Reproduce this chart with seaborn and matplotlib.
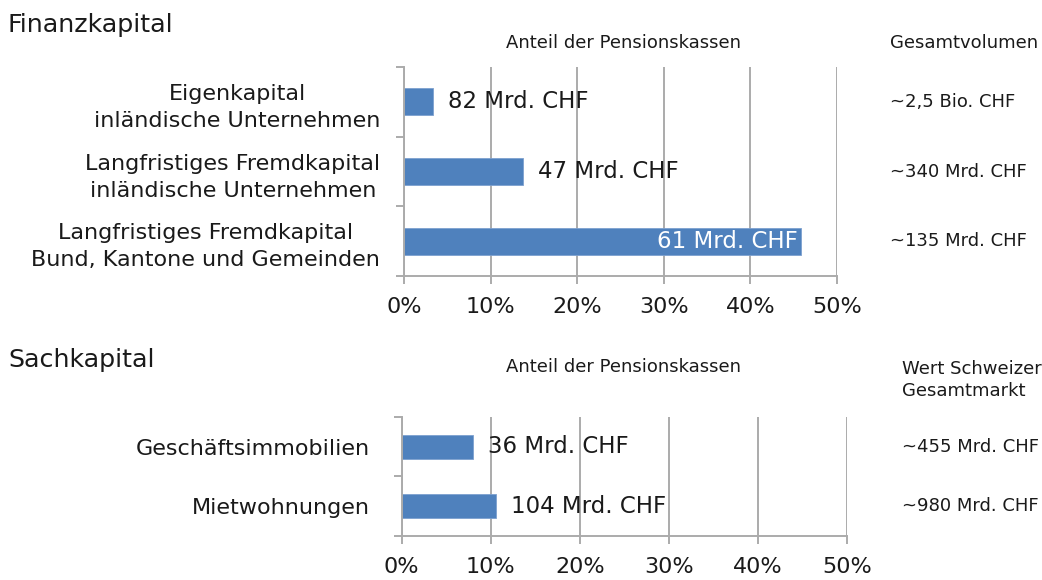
import matplotlib
matplotlib.use("Agg")
import matplotlib.pyplot as plt
import seaborn as sns
import pandas as pd
from matplotlib.ticker import FuncFormatter

# ---- data ----
fin_categories = ["Eigenkapital\ninländische Unternehmen",
                  "Langfristiges Fremdkapital\ninländische Unternehmen",
                  "Langfristiges Fremdkapital\nBund, Kantone und Gemeinden"]
fin_share = [3.3, 13.7, 45.8]
fin_labels = ["82 Mrd. CHF", "47 Mrd. CHF", "61 Mrd. CHF"]
fin_total = ["~2,5 Bio. CHF", "~340 Mrd. CHF", "~135 Mrd. CHF"]

sach_categories = ["Geschäftsimmobilien", "Mietwohnungen"]
sach_share = [8.0, 10.6]
sach_labels = ["36 Mrd. CHF", "104 Mrd. CHF"]
sach_total = ["~455 Mrd. CHF", "~980 Mrd. CHF"]

xticks = [0, 10, 20, 30, 40, 50]

sns.set_theme(style="white")
plt.rcParams['font.family'] = ['DejaVu Sans']

BLUE = "#4F81BD"
GRID = "#ABABAB"
TXT = "#1a1a1a"
FS_BIG = 16.5
FS_TICK = 16
FS_CAT = 16
FS_TITLE = 18.3
FS_SMALL = 13

fig = plt.figure(figsize=(10.42, 5.8), dpi=100)
ax1 = fig.add_axes([0.3877, 0.5241, 0.8033 - 0.3877, 0.8845 - 0.5241])
ax2 = fig.add_axes([0.3855, 0.0759, 0.8126 - 0.3855, 0.281 - 0.0759])


def draw(ax, cats, vals, labels, width, cat_pad, inside_idx=None):
    df = pd.DataFrame({"cat": cats, "val": vals})
    sns.barplot(data=df, y="cat", x="val", orient="h", color=BLUE,
                width=width, ax=ax, saturation=1, edgecolor="#7da0cf", linewidth=0.6)
    n = len(cats)
    ax.set_xlim(0, 50)
    ax.set_ylim(n - 0.5, -0.5)
    ax.set_xticks(xticks)
    ax.xaxis.set_major_formatter(FuncFormatter(lambda v, p: f"{v:.0f}%"))
    ax.set_xlabel("")
    ax.set_ylabel("")
    ax.grid(axis="x", color=GRID, linewidth=1.4)
    ax.grid(axis="y", visible=False)
    ax.set_axisbelow(True)
    for s in ["top", "right"]:
        ax.spines[s].set_visible(False)
    for s in ["left", "bottom"]:
        ax.spines[s].set_color(GRID)
        ax.spines[s].set_linewidth(1.4)
    ax.set_yticks([i - 0.5 for i in range(n + 1)])
    ax.set_yticklabels([])
    ax.set_yticks(list(range(n)), cats, minor=True)
    ax.tick_params(axis="y", which="major", length=6, width=1.4, color=GRID, direction="out", left=True)
    ax.tick_params(axis="y", which="minor", length=0, pad=cat_pad, labelsize=FS_CAT, labelcolor=TXT)
    for t in ax.get_yticklabels(minor=True):
        t.set_multialignment("center")
        t.set_linespacing(1.45)
    ax.tick_params(axis="x", length=6, width=1.4, color=GRID, direction="out", bottom=True,
                   labelsize=FS_TICK, labelcolor=TXT, pad=9)
    for i, (v, lab) in enumerate(zip(vals, labels)):
        if i == inside_idx:
            ax.annotate(lab, (v, i), xytext=(-2, 0), textcoords="offset points",
                        ha="right", va="center", color="white", fontsize=FS_BIG)
        else:
            ax.annotate(lab, (v, i), xytext=(11, 0), textcoords="offset points",
                        ha="left", va="center", color=TXT, fontsize=FS_BIG)


draw(ax1, fin_categories, fin_share, fin_labels, 0.39, cat_pad=17, inside_idx=2)
draw(ax2, sach_categories, sach_share, sach_labels, 0.4, cat_pad=23)

fig.text(8 / 1042, 1 - 25 / 580, "Finanzkapital", fontsize=FS_TITLE, color=TXT, ha="left", va="center")
fig.text(624 / 1042, 1 - 43 / 580, "Anteil der Pensionskassen", fontsize=FS_SMALL, color=TXT, ha="center", va="center")
fig.text(890 / 1042, 1 - 43 / 580, "Gesamtvolumen", fontsize=FS_SMALL, color=TXT, ha="left", va="center")
for i, t in enumerate(fin_total):
    ax1.annotate(t, xy=(890 / 1042, i), xycoords=("figure fraction", "data"),
                 ha="left", va="center", fontsize=FS_SMALL, color=TXT)

fig.text(8 / 1042, 1 - 360 / 580, "Sachkapital", fontsize=FS_TITLE, color=TXT, ha="left", va="center")
fig.text(624 / 1042, 1 - 367 / 580, "Anteil der Pensionskassen", fontsize=FS_SMALL, color=TXT, ha="center", va="center")
fig.text(902 / 1042, 1 - 380 / 580, "Wert Schweizer\nGesamtmarkt", fontsize=FS_SMALL, color=TXT,
         ha="left", va="center", linespacing=1.35)
for i, t in enumerate(sach_total):
    ax2.annotate(t, xy=(902 / 1042, i), xycoords=("figure fraction", "data"),
                 ha="left", va="center", fontsize=FS_SMALL, color=TXT)

fig.savefig("out.png", dpi=100, facecolor="white")
